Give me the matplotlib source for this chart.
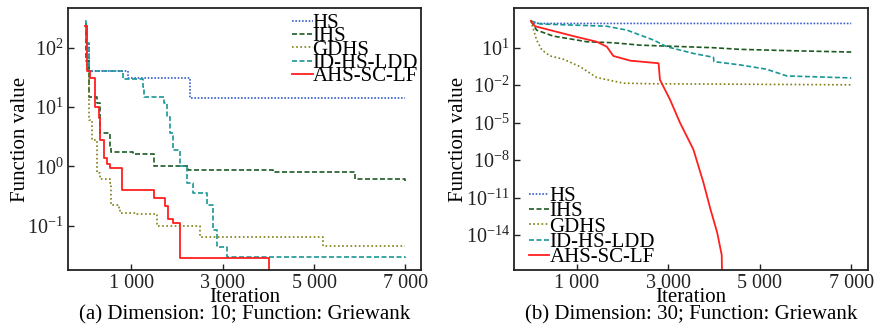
import numpy as np
import matplotlib
matplotlib.use('Agg')
from matplotlib import pyplot as plt
from matplotlib.ticker import FixedLocator, NullLocator

plt.rcParams['font.family'] = ['Liberation Serif', 'DejaVu Serif']
plt.rcParams['mathtext.fontset'] = 'stix'

names  = ['HS', 'IHS', 'GDHS', 'ID-HS-LDD', 'AHS-SC-LF']
colors = ['#3a5fd0', '#1d5a22', '#7f7f10', '#1a9696', '#ff1f1f']
styles = [(0, (1, 1)), (0, (3, 1.5)), (0, (1, 1.5)), (0, (3, 1.5)), '-']

# (a) Dimension 10 -- step curves
hs_a_x   = [0, 30, 70, 930, 2280, 7000]
hs_a_y   = [250, 120, 41, 31, 14.4, 14.4]
ihs_a_x  = [0, 20, 70, 250, 320, 540, 550, 1050, 1490, 2250, 4110, 5900, 7000]
ihs_a_y  = [250, 60, 14.9, 11.5, 3.6, 2.1, 1.75, 1.6, 1.03, 0.87, 0.8, 0.6, 0.56]
gd_a_x   = [0, 30, 70, 140, 250, 320, 540, 550, 725, 760, 1125, 1560, 2510, 5200, 7000]
gd_a_y   = [250, 40, 6.0, 2.8, 0.76, 0.6, 0.52, 0.22, 0.19, 0.16, 0.155, 0.1, 0.065, 0.045, 0.045]
id_a_x   = [0, 20, 70, 830, 1270, 1290, 1710, 1780, 1850, 1925, 2070, 2215, 2360, 2650, 2800, 2870, 3090, 7000]
id_a_y   = [280, 120, 40, 30, 22, 15, 11.5, 6.8, 3.6, 1.9, 1.0, 0.52, 0.35, 0.22, 0.085, 0.044, 0.029, 0.028]
ah_a_x   = [0, 30, 105, 215, 290, 325, 400, 470, 540, 800, 1490, 1745, 1815, 1925, 2070, 4000, 4010]
ah_a_y   = [230, 40, 31, 10, 6.5, 2.8, 1.37, 1.1, 0.94, 0.4, 0.29, 0.21, 0.13, 0.11, 0.028, 0.028, 1e-4]

# (b) Dimension 30
hs_b_x   = [0, 60, 200, 7000]
hs_b_y   = [1400, 950, 880, 880]
ihs_b_x  = [0, 125, 490, 930, 1220, 1800, 2390, 3990, 4570, 5660, 7000]
ihs_b_y  = [1400, 256, 85, 46, 30, 25, 16, 10, 7.4, 5.8, 4.5]
gd_b_x   = [0, 125, 240, 420, 710, 1070, 1440, 2020, 2600, 7000]
gd_b_y   = [1400, 41, 6.5, 2.2, 1.2, 0.31, 0.041, 0.0145, 0.013, 0.0107]
id_b_x   = [0, 200, 1660, 2100, 2680, 2970, 3550, 3990, 4000, 4570, 5150, 5590, 7000]
id_b_y   = [1400, 800, 525, 256, 41, 12, 3.5, 1.7, 0.77, 0.42, 0.19, 0.055, 0.038]
ah_b_x   = [0, 90, 420, 930, 1440, 1660, 1800, 2170, 2790, 2820, 3040, 3260, 3550, 3770, 3920, 4070, 4170, 4190]
ah_b_y   = [1400, 525, 256, 85, 30, 12, 2.2, 0.92, 0.57, 0.027, 7e-4, 9.5e-6, 7.2e-8, 1.6e-10, 1.3e-12, 1.6e-14, 2.5e-16, 1e-20]

xticks = [1000, 3000, 5000, 7000]
xlabels = ['1 000', '3 000', '5 000', '7 000']

fig = plt.figure(figsize=(8.81, 3.31), dpi=100)
axa = fig.add_axes([0.0772, 0.1843, 0.4007, 0.7915])
axb = fig.add_axes([0.5834, 0.1843, 0.4015, 0.7915])

data_a = [(hs_a_x, hs_a_y), (ihs_a_x, ihs_a_y), (gd_a_x, gd_a_y), (id_a_x, id_a_y), (ah_a_x, ah_a_y)]
data_b = [(hs_b_x, hs_b_y), (ihs_b_x, ihs_b_y), (gd_b_x, gd_b_y), (id_b_x, id_b_y), (ah_b_x, ah_b_y)]

for i in range(5):
	lw = 1.3 if i == 4 else 1.2
	axa.plot(data_a[i][0], data_a[i][1], color=colors[i], linestyle=styles[i], lw=lw,
		drawstyle='steps-post', label=names[i])
	axb.plot(data_b[i][0], data_b[i][1], color=colors[i], linestyle=styles[i], lw=lw, label=names[i])

for ax in [axa, axb]:
	ax.set_yscale('log')
	ax.xaxis.set_major_locator(FixedLocator(xticks))
	ax.set_xticklabels(xlabels)
	ax.yaxis.set_minor_locator(NullLocator())
	ax.tick_params(direction='in', labelsize=14.5, length=4, width=1, pad=3, colors='#222222')
	for s in ax.spines.values():
		s.set_linewidth(1.3)
		s.set_color('#222222')
	ax.set_xlabel('Iteration', fontsize=15, labelpad=-4)
	ax.set_ylabel('Function value', fontsize=15, labelpad=-2)

axa.set_xlim(-380, 7340)
axa.set_ylim(10**-1.75, 10**2.67)
axa.yaxis.set_major_locator(FixedLocator([1e-1, 1, 10, 100]))

axb.set_xlim(-370, 7360)
axb.set_ylim(10**-16.8, 10**4.18)
axb.yaxis.set_major_locator(FixedLocator([1e1, 1e-2, 1e-5, 1e-8, 1e-11, 1e-14]))

axa.legend(loc='upper right', bbox_to_anchor=(1.033, 1.035), frameon=False, fontsize=15,
	handlelength=1.0, handletextpad=0.0, labelspacing=-0.3, borderpad=0.2)
axb.legend(loc='lower left', bbox_to_anchor=(0.0, -0.046), frameon=False, fontsize=15,
	handlelength=1.0, handletextpad=0.0, labelspacing=-0.2, borderpad=0.2)

fig.text(0.2777, 1 - 315/331, '(a) Dimension: 10; Function: Griewank', ha='center', va='center', fontsize=15)
fig.text(0.7842, 1 - 315/331, '(b) Dimension: 30; Function: Griewank', ha='center', va='center', fontsize=15)

plt.savefig('out.png', dpi=100)
